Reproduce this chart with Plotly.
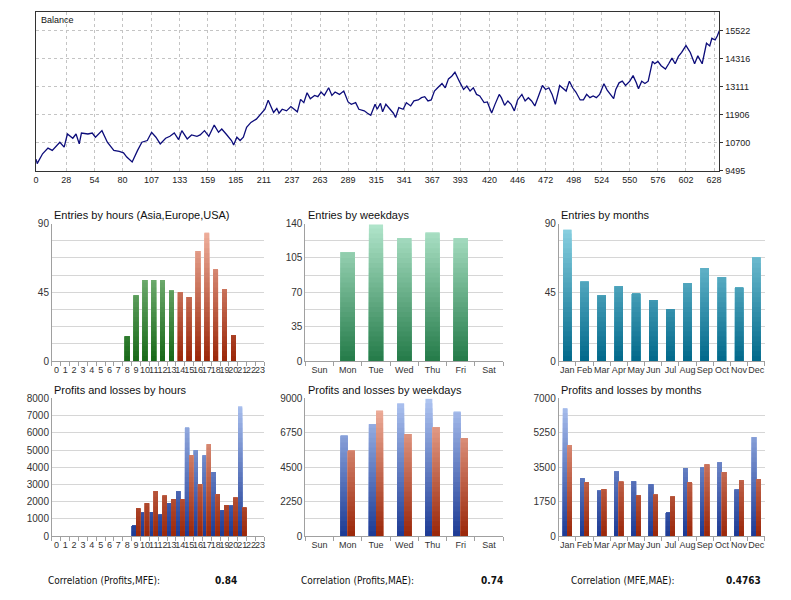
import plotly.graph_objects as go

W, H = 791, 600

# ---------------- data ----------------
TRADE_IDX = [0,1,6,11,15,22,26,29,34,37,40,42,48,52,55,61,66,72,77,81,84,89,94,98,103,107,111,115,120,124,
             128,132,135,140,144,149,152,156,160,165,169,172,176,181,183,186,189,192,195,199,204,209,212,215,
             218,220,223,225,228,232,236,239,242,245,248,251,254,258,261,264,267,271,274,277,281,285,289,292,
             296,299,304,307,310,314,316,319,321,324,327,331,333,336,340,343,347,350,354,357,360,363,366,369,
             372,376,379,382,385,388,392,396,399,402,405,408,411,415,418,422,425,429,431,434,437,440,443,446,
             450,453,456,459,462,465,469,472,475,478,481,485,488,491,494,497,500,504,507,510,513,516,519,522,
             526,529,532,535,537,540,543,546,550,553,556,558,561,564,567,569,571,573,576,579,583,586,589,592,
             595,598,602,606,610,613,617,621,624,626,629,631,633]
BALANCE = [10000,9805,10229,10471,10374,10726,10514,11078,10896,11078,10654,11120,11078,11120,10938,11222,
           10726,10374,10331,10272,10089,9877,10374,10726,10798,11150,10938,10654,10896,10980,11120,10840,
           11222,10866,11036,10980,11036,11222,10980,11460,11150,11290,11078,10798,10611,10938,10798,10938,
           11362,11575,11715,11999,12139,12530,12211,11999,12169,11969,12139,12071,12254,12139,12029,12563,
           12423,12848,12593,12733,12678,12877,12733,13060,12733,12877,12776,12920,12453,12351,12423,12139,
           12071,11969,11884,12351,12139,12394,12029,12351,12169,11969,11787,12211,12139,12423,12283,12496,
           12538,12636,12678,12496,12538,12920,13060,13242,13060,13442,13557,13726,13344,12988,13132,12920,
           13060,12776,12708,12423,12453,11978,12338,12776,12636,12309,12496,12351,12071,12538,12776,12496,
           12636,12496,12283,12636,13158,12988,13060,12776,12351,13158,13018,12920,13344,13060,12877,12538,
           12538,12776,12636,12708,12636,12776,13230,12962,12776,12593,12988,13272,13344,13158,13344,13582,
           13272,13018,13344,13242,13344,13769,14193,14091,14193,14006,13866,14091,14333,14091,14405,14575,
           14872,14575,14091,14431,14091,14970,14855,15182,15110,15280,15522]
BAL_XTICKS = [0,28,54,80,107,133,159,185,211,237,263,289,315,341,367,393,420,446,472,498,524,550,576,602,628]
BAL_YTICKS = [9495,10700,11906,13111,14316,15522]

HOUR_LABELS = [str(h) for h in range(24)]
EU_HOURS = [8,9,10,11,12,13]
EU_ENTRIES = [16,43,53,53,53,46]
US_HOURS = [14,15,16,17,18,19,20]
US_ENTRIES = [45,42,72,84,60,47,17]

PL_HOURS = [9,10,11,12,13,14,15,16,17,18,19,20,21]
PROFITS_HOURS = [600,1350,1390,1235,1920,2600,6290,5000,4675,3725,1480,1765,7525]
LOSSES_HOURS = [1600,1900,2620,2340,2150,2150,4710,3020,5340,2430,1805,2220,1650]

WEEKDAYS = ['Sun','Mon','Tue','Wed','Thu','Fri','Sat']
ENTRIES_WEEKDAYS = [0,111,139,125,131,125,0]
PROFITS_WEEKDAYS = [0,6550,7310,8660,8980,8120,0]
LOSSES_WEEKDAYS = [0,5580,8190,6670,7120,6390,0]

MONTHS = ['Jan','Feb','Mar','Apr','May','Jun','Jul','Aug','Sep','Oct','Nov','Dec']
ENTRIES_MONTHS = [86,52,43,49,44,40,34,51,61,55,48,68]
PROFITS_MONTHS = [6490,2930,2310,3280,2790,2640,1180,3460,3490,3740,2360,5040]
LOSSES_MONTHS = [4620,2740,2380,2760,2060,2100,2000,2730,3640,3260,2840,2890]

CORR_LABELS = ['Correlation (Profits,MFE):', 'Correlation (Profits,MAE):', 'Correlation (MFE,MAE):']
CORR_VALUES = ['0.84', '0.74', '0.4763']

# ---------------- helpers ----------------
def hex2rgb(h):
    h = h.lstrip('#')
    return tuple(int(h[i:i + 2], 16) for i in (0, 2, 4))

def mix(c1, c2, t):
    a, b = hex2rgb(c1), hex2rgb(c2)
    return 'rgb(%d,%d,%d)' % tuple(round(a[i] + (b[i] - a[i]) * t) for i in range(3))

def gradient_bars(x, vals, ymax, c_bot, c_top, width, offset, xa, ya, n=28):
    out = []
    for k in range(n - 1, -1, -1):
        hi = ymax * (k + 1) / n
        col = mix(c_bot, c_top, (k + 0.5) / n)
        out.append(go.Bar(x=x, y=[min(v, hi) for v in vals], width=width, offset=offset,
                          marker=dict(color=col, line=dict(width=0)),
                          xaxis=xa, yaxis=ya, hoverinfo='skip', showlegend=False))
    return out

GREEN_D, GREEN_L = '#176817', '#a6d6a6'
RED_D, RED_L = '#9a2608', '#f4b8a6'
MINT_D, MINT_L = '#237a48', '#b2e6cc'
TEAL_D, TEAL_L = '#00688a', '#8ed4e4'
BLUE_D, BLUE_L = '#1c3a94', '#b0c6f2'

fig = go.Figure()

# balance
fig.add_trace(go.Scatter(x=TRADE_IDX, y=BALANCE, mode='lines',
                         line=dict(color='#0c0c7a', width=1.3), xaxis='x', yaxis='y',
                         hoverinfo='skip', showlegend=False))

# entries by hours
for t in gradient_bars(EU_HOURS, EU_ENTRIES, 90, GREEN_D, GREEN_L, 0.53, -0.265, 'x2', 'y2'):
    fig.add_trace(t)
for t in gradient_bars(US_HOURS, US_ENTRIES, 90, RED_D, RED_L, 0.53, -0.265, 'x2', 'y2'):
    fig.add_trace(t)
# P&L by hours
for t in gradient_bars(PL_HOURS, PROFITS_HOURS, 8000, BLUE_D, BLUE_L, 0.47, -0.47, 'x5', 'y5'):
    fig.add_trace(t)
for t in gradient_bars(PL_HOURS, LOSSES_HOURS, 8000, RED_D, RED_L, 0.47, 0.0, 'x5', 'y5'):
    fig.add_trace(t)
# weekdays
wx = list(range(7))
for t in gradient_bars(wx, ENTRIES_WEEKDAYS, 140, MINT_D, MINT_L, 0.5, -0.25, 'x3', 'y3'):
    fig.add_trace(t)
for t in gradient_bars(wx, PROFITS_WEEKDAYS, 9000, BLUE_D, BLUE_L, 0.245, -0.25, 'x6', 'y6'):
    fig.add_trace(t)
for t in gradient_bars(wx, LOSSES_WEEKDAYS, 9000, RED_D, RED_L, 0.245, 0.005, 'x6', 'y6'):
    fig.add_trace(t)
# months
mx = list(range(12))
for t in gradient_bars(mx, ENTRIES_MONTHS, 90, TEAL_D, TEAL_L, 0.48, -0.24, 'x4', 'y4'):
    fig.add_trace(t)
for t in gradient_bars(mx, PROFITS_MONTHS, 7000, BLUE_D, BLUE_L, 0.26, -0.26, 'x7', 'y7'):
    fig.add_trace(t)
for t in gradient_bars(mx, LOSSES_MONTHS, 7000, RED_D, RED_L, 0.26, 0.0, 'x7', 'y7'):
    fig.add_trace(t)

# ---------------- layout ----------------
def dom_x(a, b):
    return [a / W, b / W]

def dom_y(top, bottom):
    return [1 - bottom / H, 1 - top / H]

layout = dict(
    width=W, height=H, margin=dict(l=0, r=0, t=0, b=0),
    paper_bgcolor='white', plot_bgcolor='white', barmode='overlay', showlegend=False,
    font=dict(family='Liberation Sans, Arial, sans-serif', size=10, color='#333'),
)

layout['xaxis'] = dict(domain=dom_x(33.3, 721), range=[0, 633], anchor='y',
                       tickmode='array', tickvals=BAL_XTICKS, ticktext=[str(v) for v in BAL_XTICKS],
                       showgrid=True, gridcolor='#c4c4c4', griddash='dot', gridwidth=1,
                       showline=True, linecolor='#333', mirror=True, zeroline=False, ticks='',
                       tickfont=dict(size=9, color='#222'))
layout['yaxis'] = dict(domain=dom_y(7, 169), range=[9495, 16316], anchor='x', side='right',
                       tickmode='array', tickvals=BAL_YTICKS, ticktext=[str(v) for v in BAL_YTICKS],
                       showgrid=True, gridcolor='#c4c4c4', griddash='dot', gridwidth=1,
                       showline=True, linecolor='#333', mirror=True, zeroline=False,
                       ticks='outside', ticklen=3, tickcolor='#333',
                       tickfont=dict(size=9, color='#222'))

cols = [(49.3, 263.0), (304.3, 503.3), (559.3, 766.7)]
rows = [(222.7, 362.7), (400.7, 541.0)]
xcats = [(HOUR_LABELS, 24), (WEEKDAYS, 7), (MONTHS, 12)]
yspecs = [
    [(90, 11.25, [0, 45, 90]), (140, 17.5, [0, 35, 70, 105, 140]), (90, 11.25, [0, 45, 90])],
    [(8000, 1000, [0, 1000, 2000, 3000, 4000, 5000, 6000, 7000, 8000]),
     (9000, 1125, [0, 2250, 4500, 6750, 9000]),
     (7000, 875, [0, 1750, 3500, 5250, 7000])],
]
for r in range(2):
    for c in range(3):
        idx = 2 + r * 3 + c
        labels, n = xcats[c]
        ymax, step, shown = yspecs[r][c]
        gv = [step * i for i in range(9)]
        layout['xaxis%d' % idx] = dict(
            domain=dom_x(*cols[c]), range=[-0.5, n - 0.5], anchor='y%d' % idx,
            tickmode='array', tickvals=list(range(n)), ticktext=labels, tickangle=0,
            showgrid=False, showline=True, linecolor='#a0a0a0', zeroline=False, ticks='',
            minor=dict(ticks='outside', ticklen=4, tickcolor='#a0a0a0', tick0=-0.5, dtick=1, showgrid=False),
            tickfont=dict(size=9, color='#333'))
        layout['yaxis%d' % idx] = dict(
            domain=dom_y(*rows[r]), range=[0, ymax], anchor='x%d' % idx,
            tickmode='array', tickvals=gv, ticktext=[(str(int(v)) if v in shown else '') for v in gv],
            showgrid=True, gridcolor='#d6d6d6', gridwidth=1,
            showline=True, linecolor='#a0a0a0', zeroline=False, ticks='',
            tickfont=dict(size=10, color='#333'))

titles = [['Entries by hours (Asia,Europe,USA)', 'Entries by weekdays', 'Entries by months'],
          ['Profits and losses by hours', 'Profits and losses by weekdays', 'Profits and losses by months']]
title_y = [214, 392]
title_x = [49, 305, 560]
ann = []
for r in range(2):
    for c in range(3):
        ann.append(dict(text=titles[r][c], xref='paper', yref='paper', x=title_x[c] / W,
                        y=1 - title_y[r] / H, xanchor='left', yanchor='middle', showarrow=False,
                        font=dict(size=11, color='#111')))
ann.append(dict(text='Balance', xref='paper', yref='paper', x=36 / W, y=1 - 15 / H,
                xanchor='left', yanchor='middle', showarrow=False, font=dict(size=9, color='#111')))
lab_x = [43, 298, 570]
val_x = [238, 505, 765]
for i in range(3):
    ann.append(dict(text=CORR_LABELS[i], xref='paper', yref='paper', x=lab_x[i] / W, y=1 - 586 / H,
                    xanchor='left', yanchor='middle', showarrow=False,
                    font=dict(family='Liberation Sans Narrow, DejaVu Sans Condensed, Liberation Sans',
                              size=10, color='#111')))
    ann.append(dict(text='<b>%s</b>' % CORR_VALUES[i], xref='paper', yref='paper', x=val_x[i] / W,
                    y=1 - 586 / H, xanchor='right', yanchor='middle', showarrow=False,
                    font=dict(family='Liberation Sans Narrow, DejaVu Sans Condensed, Liberation Sans',
                              size=10, color='#111')))
layout['annotations'] = ann

fig.update_layout(**layout)
fig.write_html("out.html", config={'displayModeBar': False},
               post_script="document.body.style.margin='0';document.body.style.overflow='hidden';")
